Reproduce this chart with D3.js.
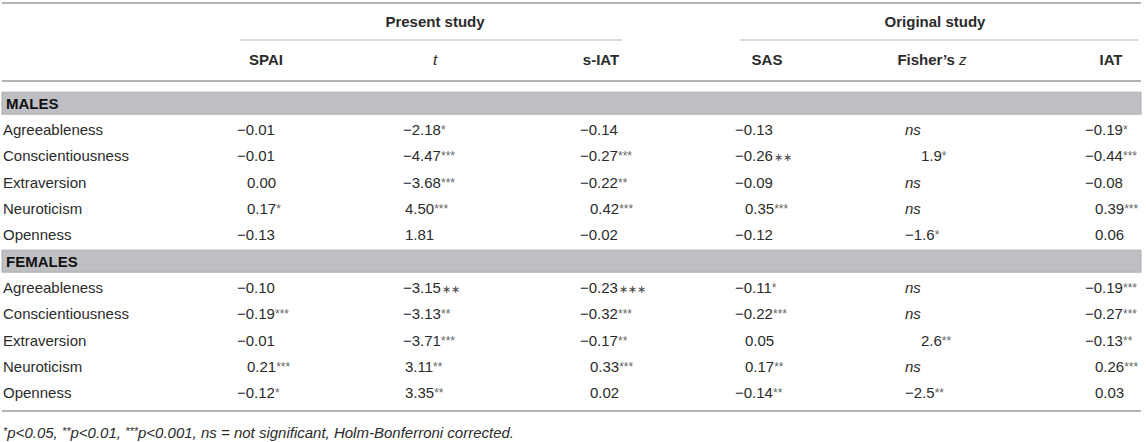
<html>
<head>
<meta charset="utf-8">
<script src="https://cdn.jsdelivr.net/npm/d3@7"></script>
<style>
  body { margin: 0; background: #fff; }
  text { font-family: "Liberation Sans", Arial, Helvetica, sans-serif; }
</style>
</head>
<body>
<script type="text/javascript">

// table content
var groups = ["MALES", "FEMALES"];
var traits = ["Agreeableness", "Conscientiousness", "Extraversion", "Neuroticism", "Openness"];
var columns = ["SPAI", "t", "s-IAT", "SAS", "Fisher's z", "IAT"];
var studies = ["Present study", "Original study"];

// males
var spaiM   = [-0.01, -0.01, 0.00, 0.17, -0.13];
var spaiMs  = ["", "", "", "*", ""];
var tM      = [-2.18, -4.47, -3.68, 4.50, 1.81];
var tMs     = ["*", "***", "***", "***", ""];
var siatM   = [-0.14, -0.27, -0.22, 0.42, -0.02];
var siatMs  = ["", "***", "**", "***", ""];
var sasM    = [-0.13, -0.26, -0.09, 0.35, -0.12];
var sasMs   = ["", "\u2217\u2217", "", "***", ""];
var fishM   = [null, 1.9, null, null, -1.6];
var fishMs  = ["", "*", "", "", "*"];
var iatM    = [-0.19, -0.44, -0.08, 0.39, 0.06];
var iatMs   = ["*", "***", "", "***", ""];

// females
var spaiF   = [-0.10, -0.19, -0.01, 0.21, -0.12];
var spaiFs  = ["", "***", "", "***", "*"];
var tF      = [-3.15, -3.13, -3.71, 3.11, 3.35];
var tFs     = ["\u2217\u2217", "**", "***", "**", "**"];
var siatF   = [-0.23, -0.32, -0.17, 0.33, 0.02];
var siatFs  = ["\u2217\u2217\u2217", "***", "**", "***", ""];
var sasF    = [-0.11, -0.22, 0.05, 0.17, -0.14];
var sasFs   = ["*", "***", "", "**", "**"];
var fishF   = [null, null, 2.6, null, -2.5];
var fishFs  = ["", "", "**", "", "**"];
var iatF    = [-0.19, -0.27, -0.13, 0.26, 0.03];
var iatFs   = ["***", "***", "**", "***", ""];

var valuesM = [spaiM, tM, siatM, sasM, fishM, iatM];
var starsM  = [spaiMs, tMs, siatMs, sasMs, fishMs, iatMs];
var valuesF = [spaiF, tF, siatF, sasF, fishF, iatF];
var starsF  = [spaiFs, tFs, siatFs, sasFs, fishFs, iatFs];

var width = 1146, height = 442;
var left = 2, right = 1141;
var ink = "#2b2b2b", rule = "#b3b3b3";

var svg = d3.select("body").append("svg")
    .attr("width", width)
    .attr("height", height);

// column positions: data start and header centre
var xData = d3.scaleOrdinal().domain(columns).range([237, 403, 580, 735, 905, 1085]);
var xHead = d3.scaleOrdinal().domain(columns).range([266, 435, 601, 767, 932, 1111]);
var indent = d3.scaleOrdinal().domain(columns).range([10, 2, 10, 10, 16, 10]);
var fmt = d3.scaleOrdinal().domain(columns).range([".2f", ".2f", ".2f", ".2f", ".1f", ".2f"]);

// rows: group band + 5 traits, twice
var rowY = d3.scaleBand().domain(d3.range(12)).range([90, 406]);

// rules
svg.append("line").attr("x1", left).attr("x2", right).attr("y1", 3).attr("y2", 3)
   .attr("stroke", rule).attr("stroke-width", 2.2);
svg.append("line").attr("x1", left).attr("x2", right).attr("y1", 81).attr("y2", 81)
   .attr("stroke", rule).attr("stroke-width", 2.2);
svg.append("line").attr("x1", left).attr("x2", right).attr("y1", 411).attr("y2", 411)
   .attr("stroke", rule).attr("stroke-width", 2.2);

var spans = [
  {name: studies[0], x1: 240, x2: 622, cx: 435},
  {name: studies[1], x1: 740, x2: 1138, cx: 935}
];
svg.selectAll(".subrule").data(spans).enter().append("line")
   .attr("x1", function(d){ return d.x1; })
   .attr("x2", function(d){ return d.x2; })
   .attr("y1", 40).attr("y2", 40)
   .attr("stroke", rule).attr("stroke-width", 1.2);
svg.selectAll(".study").data(spans).enter().append("text")
   .attr("x", function(d){ return d.cx; })
   .attr("y", 27)
   .attr("text-anchor", "middle")
   .attr("font-size", 15).attr("font-weight", "bold").attr("fill", ink)
   .text(function(d){ return d.name; });

// column headers
var heads = svg.selectAll(".head").data(columns).enter().append("text")
   .attr("x", function(d){ return xHead(d); })
   .attr("y", 65)
   .attr("text-anchor", "middle")
   .attr("font-size", 15).attr("fill", ink);
heads.each(function(d){
  var t = d3.select(this);
  if (d == "t") {
    t.append("tspan").attr("font-style", "italic").text("t");
  } else if (d == "Fisher's z") {
    t.append("tspan").attr("font-weight", "bold").text("Fisher\u2019s ");
    t.append("tspan").attr("font-style", "italic").text("z");
  } else {
    t.append("tspan").attr("font-weight", "bold").text(d);
  }
});

// group bands
groups.forEach(function(g, gi){
  var yc = rowY(gi * 6) + rowY.bandwidth() / 2;
  svg.append("rect")
     .attr("x", left).attr("y", yc - 11)
     .attr("width", right - left).attr("height", 22)
     .attr("fill", "#bebfc2").attr("stroke", "#adaeb1").attr("stroke-width", 1);
  svg.append("text")
     .attr("x", 6).attr("y", yc + 5.5)
     .attr("font-size", 15).attr("font-weight", "bold").attr("fill", "#111")
     .text(g);

  var vals = gi == 0 ? valuesM : valuesF;
  var stars = gi == 0 ? starsM : starsF;

  traits.forEach(function(tr, ti){
    var y = rowY(gi * 6 + 1 + ti) + rowY.bandwidth() / 2 + 5.5;
    svg.append("text")
       .attr("x", 3).attr("y", y)
       .attr("font-size", 15).attr("fill", ink)
       .text(tr);

    var cells = columns.map(function(c, ci){
      return {col: c, v: vals[ci][ti], s: stars[ci][ti]};
    });
    var txt = svg.selectAll(null).data(cells).enter().append("text")
       .attr("x", function(d){
         var x = xData(d.col);
         if (d.v != null && d.v >= 0) x += indent(d.col);
         return x;
       })
       .attr("y", y)
       .attr("font-size", 15).attr("fill", ink);
    txt.each(function(d){
      var t = d3.select(this);
      if (d.v == null) {
        t.append("tspan").attr("font-style", "italic").text("ns");
      } else {
        t.append("tspan").text(d3.format(fmt(d.col))(d.v));
      }
      if (d.s) {
        var mid = d.s.indexOf("\u2217") >= 0;
        t.append("tspan")
         .attr("font-size", mid ? 11 : 12)
         .attr("fill", mid ? "#444" : "#666")
         .attr("dx", mid ? 1 : 0)
         .attr("dy", mid ? 0 : -1)
         .text(d.s);
      }
    });
  });
});

// footnote
var note = svg.append("text")
   .attr("x", 3).attr("y", 438)
   .attr("font-size", 15).attr("font-style", "italic").attr("fill", ink);
var parts = [["*", "p<0.05, "], ["**", "p<0.01, "], ["***", "p<0.001, "]];
parts.forEach(function(p){
  note.append("tspan").attr("font-size", 11).attr("dy", -3).text(p[0]);
  note.append("tspan").attr("dy", 3).text(p[1]);
});
note.append("tspan").text("ns = not significant, Holm-Bonferroni corrected.");

</script>
</body>
</html>
